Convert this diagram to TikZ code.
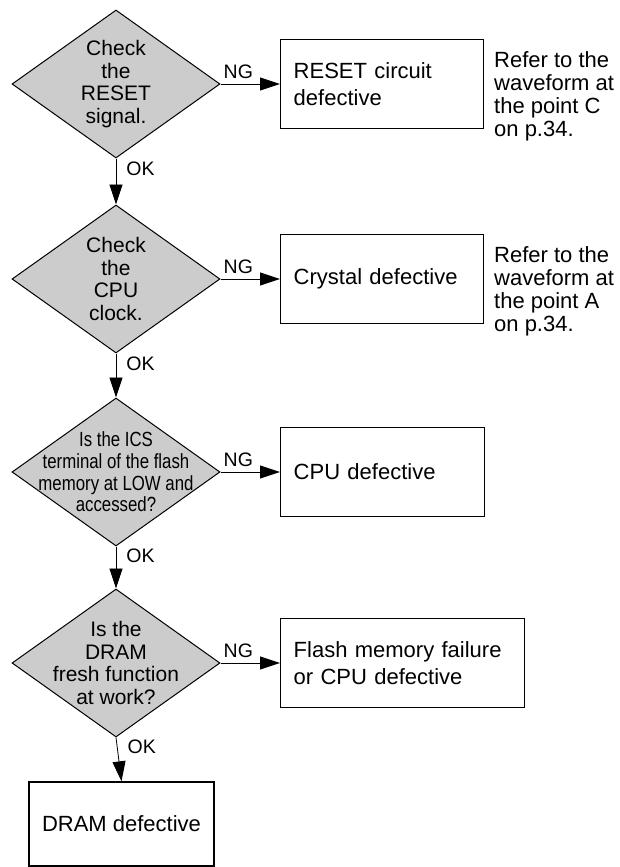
\documentclass[tikz,border=0pt]{standalone}
\usepackage{fontspec}
\setmainfont{Liberation Sans}
\newfontfamily\narrowfont[FakeStretch=0.82]{Liberation Sans}
\usetikzlibrary{shapes.geometric,arrows.meta}
\definecolor{dfill}{RGB}{204,204,204}
\begin{document}
\begin{tikzpicture}[x=1pt,y=-1pt,
  dec/.style={diamond, draw=black, line width=1pt, fill=dfill, minimum width=208pt, minimum height=148pt, inner sep=0pt},
  dtext/.style={align=center, inner sep=0pt, font=\fontsize{21}{22.7}\selectfont},
  ntext/.style={align=center, inner sep=0pt, font=\narrowfont\fontsize{20.5}{21.7}\selectfont},
  box/.style={rectangle, draw=black, line width=1.4pt, minimum height=89pt, inner xsep=13pt, align=left, font=\fontsize{22}{27.5}\selectfont},
  anno/.style={align=left, inner sep=0pt, font=\fontsize{22}{23}\selectfont, anchor=north west},
  lab/.style={inner sep=0pt, font=\fontsize{19.5}{19.5}\selectfont},
  arr/.style={line width=0.8pt, -{Triangle[length=20pt,width=13pt]}}
]
\useasboundingbox (0,0) rectangle (619,867);

% decisions
\node[dec, label={[dtext]center:{Check\\the\\RESET\\signal.}}] (d1) at (116,84) {};
\node[dec, label={[dtext]center:{Check\\the\\CPU\\clock.}}] (d2) at (116,279) {};
\node[dec, label={[ntext]center:{Is the ICS\\terminal of the flash\\memory at LOW and\\accessed?}}] (d3) at (116,472) {};
\node[dec, label={[dtext]center:{Is the\\DRAM\\fresh function\\at work?}}] (d4) at (116,663) {};

% result boxes
\node[box, text width=177pt, anchor=west] (b1) at (280,84) {RESET circuit\\defective};
\node[box, text width=177pt, anchor=west] (b2) at (280,279) {Crystal defective};
\node[box, text width=178pt, anchor=west] (b3) at (280,472) {CPU defective};
\node[box, text width=218pt, anchor=west] (b4) at (280,663) {Flash memory failure\\or CPU defective};
\node[box, minimum width=185pt, minimum height=84pt, align=center] (b5) at (121.5,824) {DRAM defective};

% annotations
\node[anno] (n1) at (494,51) {Refer to the\\waveform at\\the point C\\on p.34.};
\node[anno] (n2) at (494,246) {Refer to the\\waveform at\\the point A\\on p.34.};

% NG connectors
\draw[arr] (d1.east) -- node[lab, above=5pt, pos=0.3]{NG} (b1.west);
\draw[arr] (d2.east) -- node[lab, above=5pt, pos=0.3]{NG} (b2.west);
\draw[arr] (d3.east) -- node[lab, above=5pt, pos=0.3]{NG} (b3.west);
\draw[arr] (d4.east) -- node[lab, above=5pt, pos=0.3]{NG} (b4.west);

% OK connectors
\draw[arr] (d1.south) -- node[lab, right=10pt, pos=0.23]{OK} (d2.north);
\draw[arr] (d2.south) -- node[lab, right=10pt, pos=0.23]{OK} (d3.north);
\draw[arr] (d3.south) -- node[lab, right=10pt, pos=0.23]{OK} (d4.north);
\draw[arr] (d4.south) -- node[lab, right=10pt, pos=0.22]{OK} (b5.north);
\end{tikzpicture}
\end{document}
